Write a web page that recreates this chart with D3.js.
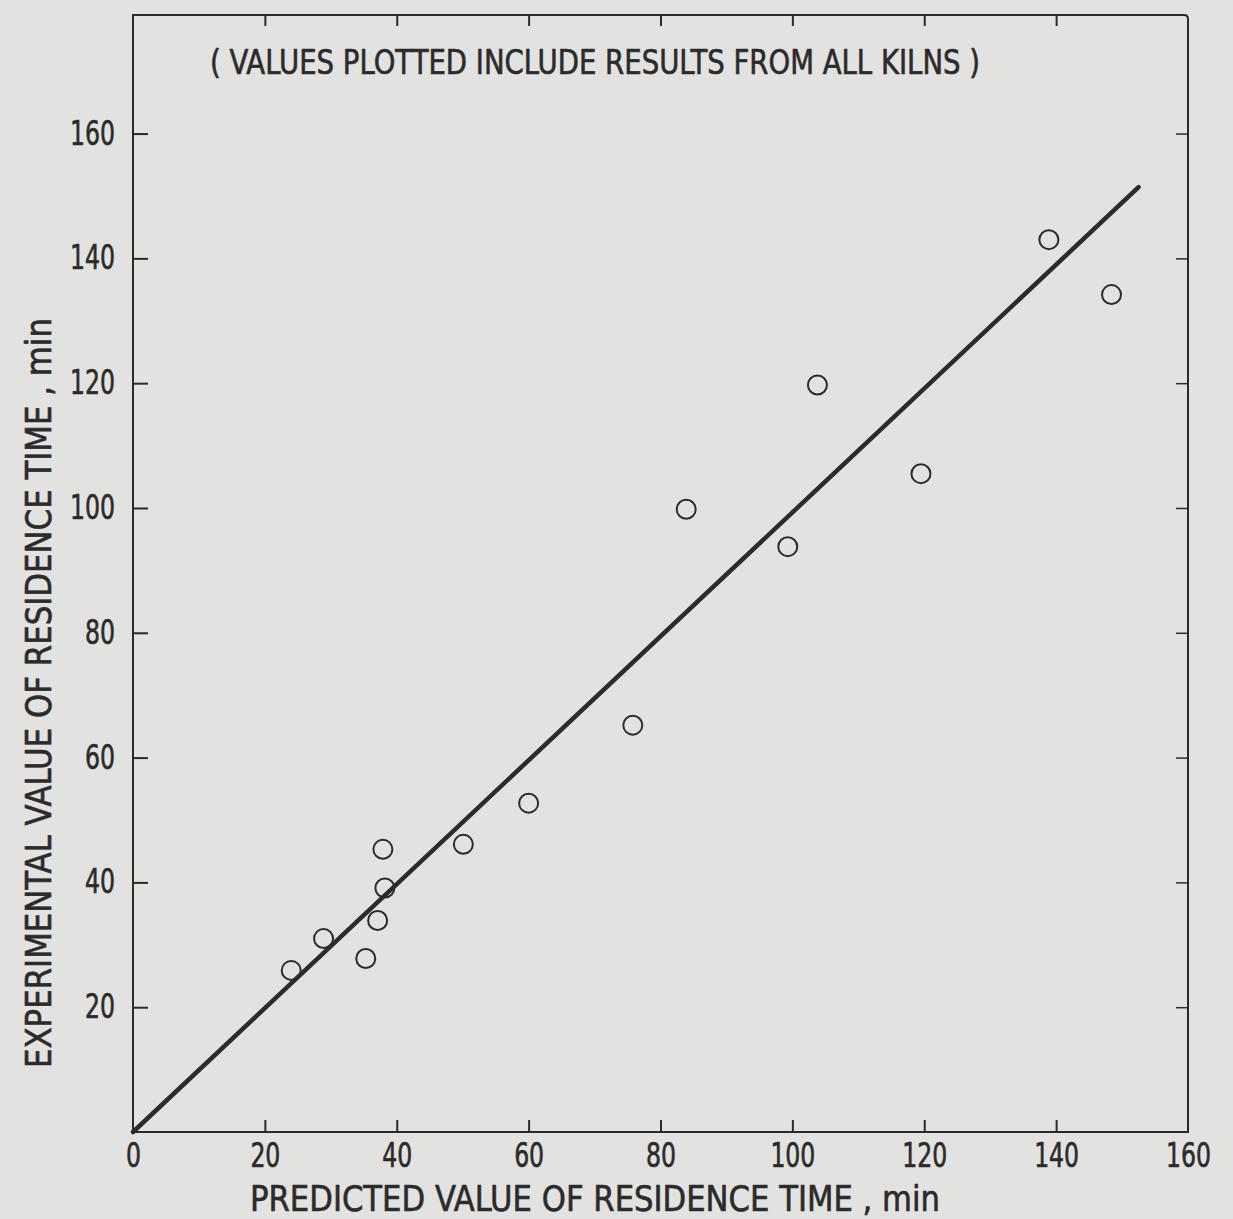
<!DOCTYPE html>
<html>
<head>
<meta charset="utf-8">
<script src="https://cdn.jsdelivr.net/npm/d3@7"></script>
<style>
  html, body { margin: 0; padding: 0; background: #e2e2e0; }
  svg { display: block; }
  text { font-family: "DejaVu Sans Condensed", "Liberation Sans Narrow", sans-serif; fill: #2b2b2b; stroke: #2b2b2b; stroke-width: 0.6px; }
</style>
</head>
<body>
<svg id="chart"></svg>
<script>
// predicted vs experimental residence time (min)
const predicted    = [24.0, 28.9, 35.3, 37.1, 37.9, 38.2, 50.1, 60.0, 75.8, 83.9, 99.3, 103.8, 119.5, 138.9, 148.4];
const experimental = [25.9, 31.0, 27.8, 33.9, 45.3, 39.1, 46.1, 52.7, 65.2, 99.8, 93.8, 119.7, 105.5, 143.0, 134.2];
// the 45-degree line, drawn from the origin
const lineX = [0, 152.5];
const lineY = [0, 151.4];
const xTicks = [0, 20, 40, 60, 80, 100, 120, 140, 160];
const yTicks = [20, 40, 60, 80, 100, 120, 140, 160];
const title  = "( VALUES PLOTTED INCLUDE RESULTS FROM ALL KILNS )";
const xTitle = "PREDICTED VALUE OF RESIDENCE TIME , min";
const yTitle = "EXPERIMENTAL VALUE OF RESIDENCE TIME , min";

const W = 1233, H = 1219;
const ink = "#2b2b2b";

const svg = d3.select("#chart").attr("width", W).attr("height", H);

const x = d3.scaleLinear().domain([0, 160]).range([133, 1188]);
const y = d3.scaleLinear().domain([0, 179]).range([1132, 15]);

// narrow stencil-like digits: squeeze each label to about 15px per character
const digitW = 15;

// frame: left + bottom axes, top + right borders
svg.append("path")
    .attr("d", `M${x(0)},${y(179)} L${x(0)},${y(0)} L${x(160)},${y(0)} L${x(160)},${y(179) + 4} Q${x(160)},${y(179)} ${x(160) - 4},${y(179)} Z`)
    .attr("fill", "none").attr("stroke", ink).attr("stroke-width", 2);

// bottom axis, ticks pointing up
const xAxis = d3.axisBottom(x).tickValues(xTicks).tickSizeInner(-12).tickSizeOuter(0).tickPadding(12);
const gx = svg.append("g").attr("transform", `translate(0,${y(0)})`).call(xAxis);
gx.select(".domain").remove();
gx.selectAll(".tick line").attr("stroke", ink).attr("stroke-width", 2)
    .filter(d => d === 0 || d === 160).remove();
gx.selectAll(".tick text")
    .attr("font-size", 33).attr("dy", "0.71em").attr("fill", ink)
    .attr("textLength", d => String(d).length * digitW).attr("lengthAdjust", "spacingAndGlyphs");

// top border ticks, pointing down
const gxTop = svg.append("g").attr("transform", `translate(0,${y(179)})`)
    .call(d3.axisTop(x).tickValues(xTicks.slice(1, -1)).tickSizeInner(-11).tickSizeOuter(0).tickFormat(""));
gxTop.select(".domain").remove();
gxTop.selectAll(".tick line").attr("stroke", ink).attr("stroke-width", 2);

// left axis, ticks pointing right
const yAxis = d3.axisLeft(y).tickValues(yTicks).tickSizeInner(-15).tickSizeOuter(0).tickPadding(18);
const gy = svg.append("g").attr("transform", `translate(${x(0)},0)`).call(yAxis);
gy.select(".domain").remove();
gy.selectAll(".tick line").attr("stroke", ink).attr("stroke-width", 2);
gy.selectAll(".tick text")
    .attr("font-size", 33).attr("fill", ink)
    .attr("textLength", d => String(d).length * digitW).attr("lengthAdjust", "spacingAndGlyphs");

// right border ticks, pointing left
const gyR = svg.append("g").attr("transform", `translate(${x(160)},0)`)
    .call(d3.axisRight(y).tickValues(yTicks).tickSizeInner(-12).tickSizeOuter(0).tickFormat(""));
gyR.select(".domain").remove();
gyR.selectAll(".tick line").attr("stroke", ink).attr("stroke-width", 1.5);

// 45-degree line
svg.append("path")
    .datum(d3.zip(lineX, lineY))
    .attr("d", d3.line().x(d => x(d[0])).y(d => y(d[1])))
    .attr("fill", "none").attr("stroke", ink).attr("stroke-width", 4.5).attr("stroke-linecap", "round");

// data points, open circles
svg.append("g").selectAll("circle")
    .data(d3.zip(predicted, experimental))
    .join("circle")
    .attr("cx", d => x(d[0]))
    .attr("cy", d => y(d[1]))
    .attr("r", 9.5)
    .attr("fill", "none").attr("stroke", ink).attr("stroke-width", 2);

// texts
svg.append("text").attr("x", 210).attr("y", 74)
    .attr("font-size", 33).attr("textLength", 770).attr("lengthAdjust", "spacingAndGlyphs")
    .text(title);

svg.append("text").attr("x", 250).attr("y", 1211)
    .attr("font-size", 35).attr("textLength", 690).attr("lengthAdjust", "spacingAndGlyphs")
    .text(xTitle);

svg.append("text")
    .attr("transform", "translate(51,1068) rotate(-90)")
    .attr("font-size", 35).attr("textLength", 750).attr("lengthAdjust", "spacingAndGlyphs")
    .text(yTitle);
</script>
</body>
</html>
